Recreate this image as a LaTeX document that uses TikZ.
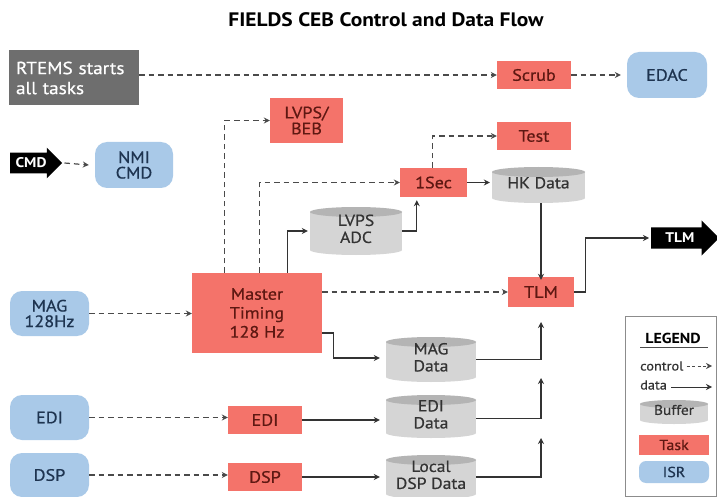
\documentclass[tikz,border=0pt]{standalone}
\usepackage{fontspec}
\setmainfont[FakeStretch=1.1,UprightFeatures={FakeBold=0.6}]{PT Sans}
\usetikzlibrary{arrows.meta,shapes.arrows,calc}
\definecolor{taskred}{HTML}{F4736A}
\definecolor{tasktext}{HTML}{5E1812}
\definecolor{isrblue}{HTML}{A9C9E8}
\definecolor{isrtext}{HTML}{1E3450}
\definecolor{rtemsgray}{HTML}{6E6E6E}
\definecolor{bufbody}{HTML}{D5D5D5}
\definecolor{buftop}{HTML}{B4B4B4}
\definecolor{linegray}{HTML}{4A4A4A}
\tikzset{
  task/.style={fill=taskred,text=tasktext,inner sep=1pt,align=center,font=\fontsize{16.5}{19}\selectfont},
  isr/.style={fill=isrblue,text=isrtext,rounded corners=12pt,inner sep=1pt,align=center,font=\fontsize{16.5}{15.5}\selectfont},
  buftext/.style={inner sep=0pt,align=center,text=black!80,font=\fontsize{16}{17}\selectfont},
  ctrl/.style={draw=linegray,line width=1.2pt,dash pattern=on 5.5pt off 4pt,-{Stealth[length=6pt,width=6pt]}},
  dataline/.style={draw=black!80,line width=1.3pt,-{Stealth[length=6pt,width=6pt]}},
  bigarrow/.style={single arrow,fill=black,text=white,inner xsep=2pt,inner ysep=5pt,
    single arrow head extend=5pt,single arrow head indent=0pt,font=\bfseries\fontsize{14}{14}\selectfont}
}
\newcommand\bufnode[8]{%
  \fill[bufbody] (#2,#3+#7) rectangle (#4,#5-#7);
  \fill[bufbody] ({(#2+#4)/2},#5-#7) ellipse [x radius={((#4-#2)/2)*1pt}, y radius={#7*1pt}];
  \fill[buftop] ({(#2+#4)/2},#3+#7) ellipse [x radius={((#4-#2)/2)*1pt}, y radius={#7*1pt}];
  \node[buftext,#8,minimum width={(#4-#2)*1pt},minimum height={(#5-#3)*1pt}] (#1) at ({(#2+#4)/2},{(#3+#5)/2}) {\raisebox{-3pt}{\begin{tabular}{@{}c@{}}#6\end{tabular}}};
}
\begin{document}
\begin{tikzpicture}[x=1pt,y=-1pt]
\useasboundingbox (0,0) rectangle (717,497);
\fill[white] (0,0) rectangle (717,497);
% title
\node[font=\bfseries\fontsize{19.5}{19.5}\selectfont] (title) at (386,20) {FIELDS CEB Control and Data Flow};
% RTEMS
\node[fill=rtemsgray,text=white,minimum width=130pt,minimum height=55pt,align=left,inner sep=7pt,text width=116pt,font=\fontsize{17.5}{20}\selectfont] (rtems) at (74,78) {RTEMS starts\\all tasks};
\node[task,minimum width=74pt,minimum height=28pt] (scrub) at (534,75) {Scrub};
\node[isr,minimum width=80pt,minimum height=46pt] (edac) at (667,75) {EDAC};
% LVPS/BEB
\node[task,minimum width=73pt,minimum height=45pt,font=\fontsize{16.5}{16}\selectfont] (lvps) at (306.5,120.5) {LVPS/\\BEB};
% CMD
\node[bigarrow,minimum height=52pt,anchor=west] (cmd) at (10,163) {CMD};
\node[isr,minimum width=78pt,minimum height=46pt] (nmi) at (134,165) {NMI\\CMD};
% Test, 1Sec
\node[task,minimum width=74pt,minimum height=28pt] (test) at (534,136) {Test};
\node[task,minimum width=67pt,minimum height=29pt] (onesec) at (433.5,182.5) {1Sec};
% buffers
\bufnode{hk}{492}{167}{585}{203}{HK Data}{5}{}
\bufnode{adc}{310}{207}{402}{255}{LVPS\\ADC}{5}{}
\bufnode{magdata}{386}{337}{476}{382}{MAG\\Data}{5}{}
\bufnode{edidata}{386}{395}{476}{438}{EDI\\Data}{5}{}
\bufnode{dspdata}{386}{455}{476}{499}{Local\\DSP Data}{5}{}
% master timing
\node[task,minimum width=130pt,minimum height=80pt] (master) at (257,313) {Master\\Timing\\128 Hz};
% TLM task and arrow
\node[task,minimum width=66pt,minimum height=30pt] (tlm) at (541,292) {TLM};
\node[bigarrow,single arrow head extend=7pt,inner ysep=5.5pt,minimum height=68pt,anchor=west] (tlmout) at (651,238) {TLM};
% ISRs left
\node[isr,minimum width=79pt,minimum height=45pt] (mag) at (49.5,313.5) {MAG\\128Hz};
\node[isr,minimum width=79pt,minimum height=45pt] (edi) at (49.5,417.5) {EDI};
\node[isr,minimum width=79pt,minimum height=44pt] (dsp) at (49.5,475) {DSP};
\node[task,minimum width=74pt,minimum height=28pt] (editask) at (265,420) {EDI};
\node[task,minimum width=74pt,minimum height=28pt] (dsptask) at (265,477) {DSP};
% connectors: control
\draw[ctrl] (rtems.east |- scrub.west) -- (scrub.west);
\draw[ctrl] (scrub.east) -- ([xshift=-6pt]edac.west);
\draw[ctrl] ([xshift=2pt]cmd.east) -- ([xshift=-6pt]nmi.west);
\draw[ctrl] ([xshift=33pt]master.north west) |- (lvps.west);
\draw[ctrl] ([xshift=68pt]master.north west) |- (onesec.west);
\draw[ctrl] ([xshift=33pt]onesec.north west) |- (test.west);
\draw[ctrl] (master.east |- tlm.west) -- (tlm.west);
\draw[ctrl] (mag.east) -- (mag.east -| master.west);
\draw[ctrl] (edi.east) -- (edi.east -| editask.west);
\draw[ctrl] (dsp.east) -- (dsp.east -| dsptask.west);
% connectors: data
\draw[dataline] ([xshift=96pt]master.north west) |- ([xshift=-2pt]adc.west);
\draw[dataline] (adc.east) -| ([xshift=17pt,yshift=-3pt]onesec.south west);
\draw[dataline] (onesec.east) -- ([xshift=-2pt]onesec.east -| hk.west);
\draw[dataline] (hk.south -| tlm.north) -- ([yshift=-3pt]tlm.north);
\draw[dataline] (tlm.east) -- ++(11,0) |- ([xshift=-2pt]tlmout.west);
\draw[dataline] ([yshift=-20pt]master.east) -- ++(11,0) |- ([xshift=-6pt,yshift=1.5pt]magdata.west);
\draw[dataline] (editask.east) -- ([xshift=-6pt]editask.east -| edidata.west);
\draw[dataline] (dsptask.east) -- ([xshift=-6pt]dsptask.east -| dspdata.west);
\coordinate (in1) at (541,322);
\coordinate (in2) at (541,378);
\coordinate (in3) at (541,438);
\draw[dataline] (magdata.east) -| (in1);
\draw[dataline] ([yshift=-2pt]edidata.east) -| (in2);
\draw[dataline] (dspdata.east |- dsptask.east) -| (in3);
% legend
\node[draw=black!45,line width=0.8pt,minimum width=91pt,minimum height=180pt] (legend) at (670.5,406) {};
\node[font=\bfseries\fontsize{14.5}{14.5}\selectfont] (legtitle) at (673,338) {LEGEND};
\draw[black!70,line width=0.8pt] (640,347) -- (708,347);
\node[anchor=west,inner sep=0pt,text=black!80,font=\fontsize{13}{13}\selectfont] (lctrl) at (640,366) {control};
\coordinate (lctrlend) at (712,366);
\draw[ctrl,line width=1pt,dash pattern=on 3pt off 2.5pt] ([xshift=3pt]lctrl.east) -- (lctrlend);
\node[anchor=west,inner sep=0pt,text=black!80,font=\fontsize{13}{13}\selectfont] (ldata) at (640,385) {data};
\coordinate (ldataend) at (712,387);
\draw[dataline,line width=1pt] (ldata.east |- ldataend) ++(4,0) -- (ldataend);
\bufnode{lbuf}{640}{400}{708}{424}{Buffer}{4}{font=\fontsize{14}{14}\selectfont}
\node[task,minimum width=70pt,minimum height=20pt,font=\fontsize{14.5}{14.5}\selectfont] (ltask) at (674,445) {Task};
\node[isr,rounded corners=7pt,minimum width=70pt,minimum height=22pt,font=\fontsize{14.5}{14.5}\selectfont] (lisr) at (674,472) {ISR};
\end{tikzpicture}
\end{document}
